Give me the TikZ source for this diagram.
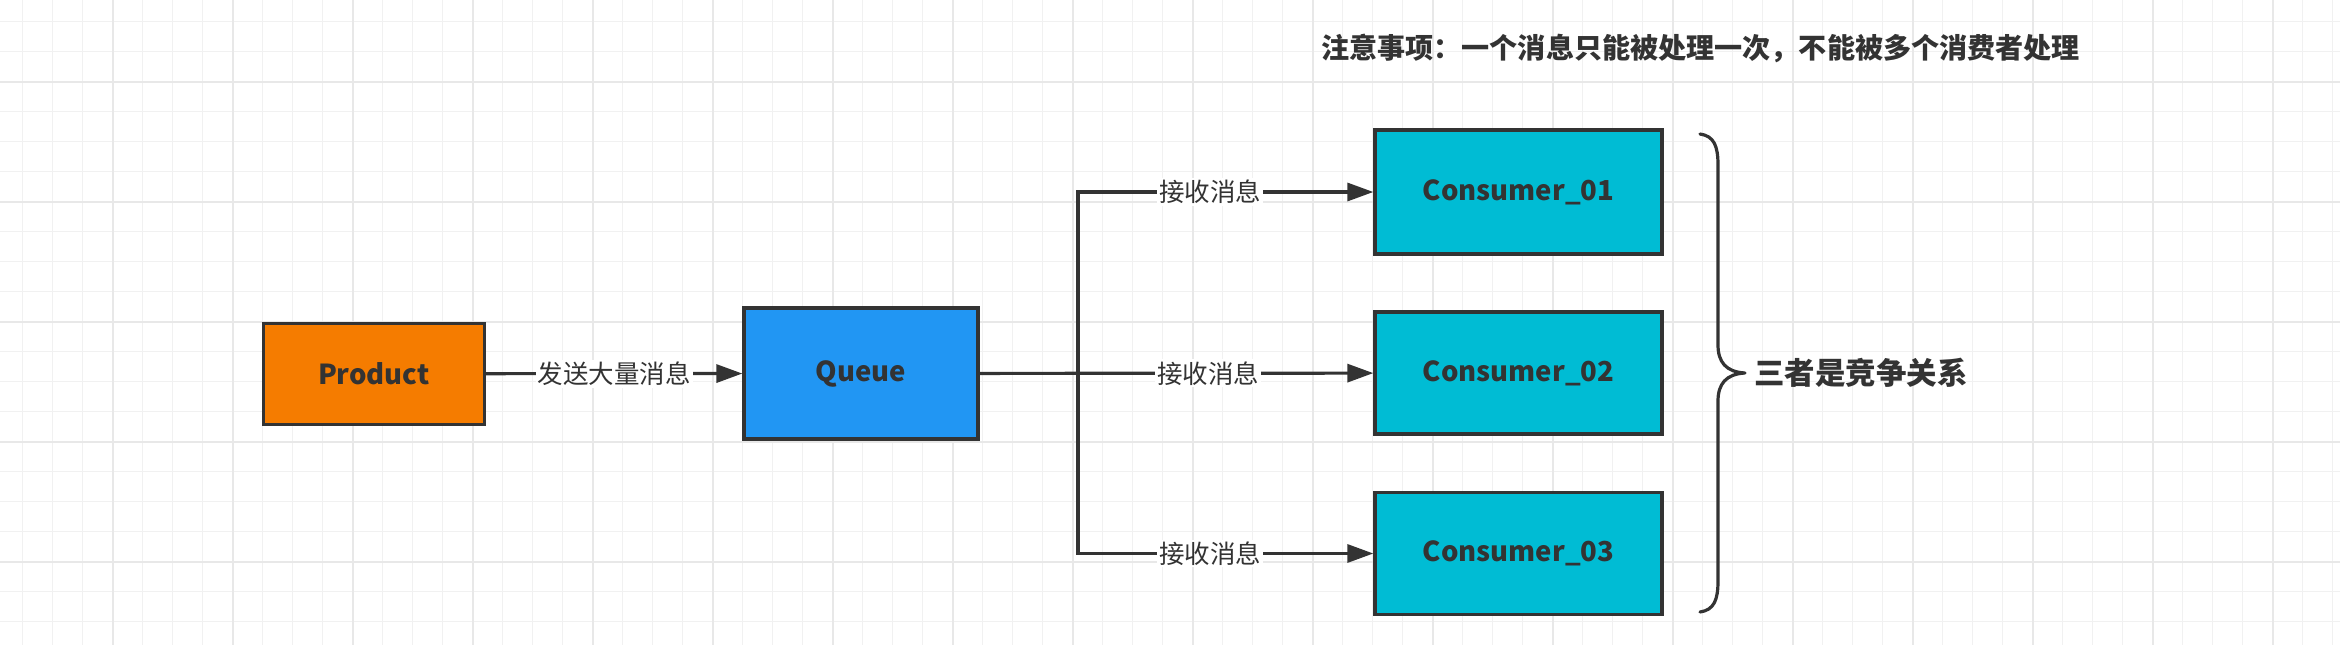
\documentclass[tikz,border=0pt]{standalone}
\usepackage{fontspec}
\setmainfont{Noto Sans CJK SC}
\usetikzlibrary{arrows.meta}
\definecolor{ink}{HTML}{333333}
\definecolor{gridthin}{HTML}{F1F1F1}
\definecolor{gridthick}{HTML}{E8E8E8}
\definecolor{prodfill}{HTML}{F57C00}
\definecolor{queuefill}{HTML}{2196F3}
\definecolor{consfill}{HTML}{00BCD4}
\tikzset{
  boxstyle/.style={draw=ink, line width=3.3pt, text=ink, font=\fontsize{27.5}{30}\selectfont\bfseries, inner sep=0pt},
  arr/.style={draw=ink, line width=3.2pt, -{Triangle[length=26pt,width=18pt]}},
  lbl/.style={fill=white, text=ink, font=\fontsize{25.5}{28}\selectfont, inner sep=2pt},
  note/.style={text=ink, font=\fontsize{28.1}{31}\selectfont\bfseries, inner sep=0pt},
  bignote/.style={text=ink, font=\fontsize{30.5}{33}\selectfont\bfseries, inner sep=0pt},
  bracestyle/.style={draw=ink, line width=3.2pt, line cap=round, line join=round}
}
\begin{document}
\begin{tikzpicture}[x=1pt,y=-1pt]
\useasboundingbox (0,0) rectangle (2340,645);
\fill[white] (0,0) rectangle (2340,645);
% grid
\foreach \i in {0,...,77} {
  \draw[gridthin, line width=1.4pt] ({22.7+30*\i},0) -- ({22.7+30*\i},645);
}
\foreach \i in {0,...,20} {
  \draw[gridthin, line width=1.4pt] (0,{21.7+30*\i}) -- (2340,{21.7+30*\i});
}
\foreach \i in {0,...,19} {
  \draw[gridthick, line width=1.6pt] ({112.7+120*\i},0) -- ({112.7+120*\i},645);
}
\foreach \i in {0,...,4} {
  \draw[gridthick, line width=1.6pt] (0,{81.7+120*\i}) -- (2340,{81.7+120*\i});
}
% nodes
\node[boxstyle, fill=prodfill, minimum width=221pt, minimum height=101pt] (product) at (373.8,373.7) {Product};
\node[boxstyle, fill=queuefill, minimum width=234pt, minimum height=131pt] (queue) at (861,373.5) {Queue};
\node[boxstyle, fill=consfill, minimum width=287pt, minimum height=124pt] (c1) at (1518.5,192) {Consumer\_01};
\node[boxstyle, fill=consfill, minimum width=287pt, minimum height=122pt] (c2) at (1518.5,373) {Consumer\_02};
\node[boxstyle, fill=consfill, minimum width=287pt, minimum height=122pt] (c3) at (1518.5,553.5) {Consumer\_03};
\coordinate (split) at (1078,373);
% connectors
\draw[arr] (product) -- node[lbl] {发送大量消息} (queue);
\draw[arr] (queue) -- node[lbl, pos=0.58] {接收消息} (c2);
\draw[arr] (split) |- node[lbl, pos=0.724] {接收消息} (c1);
\draw[arr] (split) |- node[lbl, pos=0.724] {接收消息} (c3);
% brace
\coordinate (btop) at (1700,134);
\coordinate (bbot) at (1700,612);
\coordinate (btip) at (1745,373);
\draw[bracestyle] (btop) .. controls (1714,136) and (1718,146) .. (1718,165)
  -- (1718,345) .. controls (1718,362) and (1726,372) .. (btip)
  .. controls (1726,374) and (1718,384) .. (1718,401)
  -- (1718,581) .. controls (1718,600) and (1714,610) .. (bbot);
\node[bignote, anchor=west] (compete) at (1754,373) {三者是竞争关系};
\node[note, anchor=west] (notice) at (1321,48.5) {注意事项：一个消息只能被处理一次，不能被多个消费者处理};
\end{tikzpicture}
\end{document}
